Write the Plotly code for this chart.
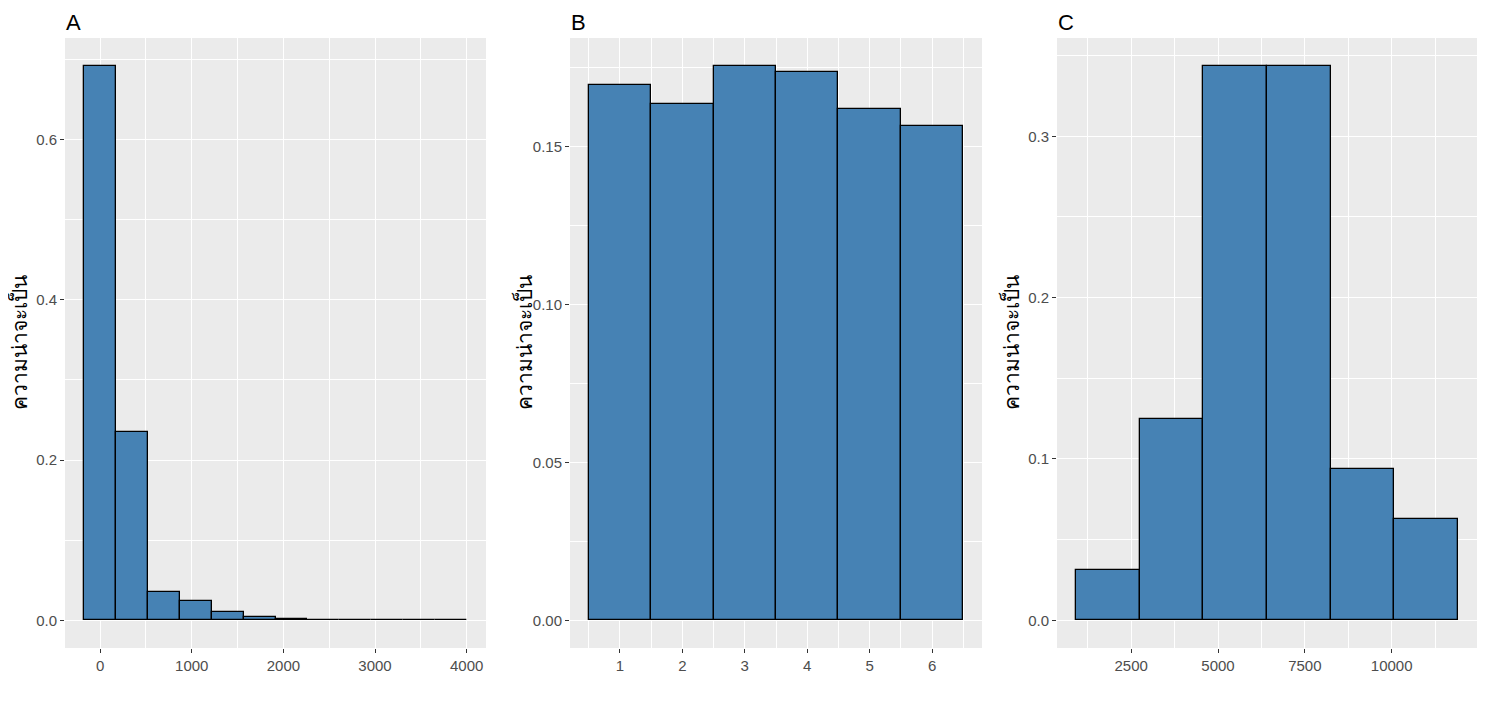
import plotly.graph_objects as go

# panel A: skewed variable, 12 bins
a_centers = [0, 348, 696, 1044, 1392, 1740, 2088, 2436, 2784, 3132, 3480, 3828]
a_prob = [0.692, 0.2345, 0.035, 0.0237, 0.0100, 0.0040, 0.0015, 0.0008, 0.0007, 0.0006, 0.0002, 0.0007]
a_width = 348

# panel B: dice faces
b_centers = [1, 2, 3, 4, 5, 6]
b_prob = [0.1696, 0.1636, 0.1756, 0.1737, 0.1620, 0.1566]
b_width = 1

# panel C: 6 bins
c_centers = [1830, 3662, 5494, 7326, 9158, 10990]
c_prob = [0.03125, 0.125, 0.34375, 0.34375, 0.09375, 0.0625]
c_width = 1832

y_title = "ความน่าจะเป็น"
panel_labels = ["A", "B", "C"]

# page is 1488x704 but the body has an 8px margin, so the figure is a bit smaller
OFF = 8
W, H = 1488 - 2 * OFF, 704 - 2 * OFF
FONT = "Liberation Sans, Arial, sans-serif"
BAR = "#4682B4"
PANEL_BG = "#EBEBEB"

def px_x(p):
    return (p - OFF) / W

def px_y(p):
    return 1 - (p - OFF) / H

fig = go.Figure()

# page-pixel boxes of the three panels (left, right), shared top/bottom
boxes = [(65, 486), (570, 982), (1057, 1477)]
top_px, bot_px = 38, 648
ydom = [px_y(bot_px), px_y(top_px)]

data = [
    (a_centers, a_prob, a_width),
    (b_centers, b_prob, b_width),
    (c_centers, c_prob, c_width),
]

for i, (cx, py, w) in enumerate(data):
    sfx = "" if i == 0 else str(i + 1)
    fig.add_trace(go.Bar(
        x=cx, y=py, width=w,
        marker=dict(color=BAR, line=dict(color="black", width=1.3)),
        xaxis="x" + sfx, yaxis="y" + sfx,
        showlegend=False,
        hovertemplate="%{x}: %{y:.4f}<extra></extra>",
    ))

def yr(vals):
    m = max(vals)
    return [-0.05 * m, 1.05 * m]

def xr(lo, hi):
    d = (hi - lo) * 0.05
    return [lo - d, hi + d]

def minor(vals):
    return dict(tickvals=vals, showgrid=True, gridcolor="white", gridwidth=0.7, ticks="")

axis_common = dict(
    showgrid=True, gridcolor="white", gridwidth=1.4,
    zeroline=False, showline=False,
    ticks="outside", ticklen=4, tickwidth=1.1, tickcolor="#333333",
    tickfont=dict(family=FONT, size=15, color="#4D4D4D"),
)

x_specs = [
    dict(range=xr(-174, 4002), tickvals=[0, 1000, 2000, 3000, 4000], tickformat="d",
         minor=minor([500, 1500, 2500, 3500])),
    dict(range=xr(0.5, 6.5), tickvals=[1, 2, 3, 4, 5, 6], tickformat="d",
         minor=minor([0.5, 1.5, 2.5, 3.5, 4.5, 5.5, 6.5])),
    dict(range=xr(914, 11906), tickvals=[2500, 5000, 7500, 10000], tickformat="d",
         minor=minor([1250, 3750, 6250, 8750, 11250])),
]
y_specs = [
    dict(range=yr(a_prob), tickvals=[0, 0.2, 0.4, 0.6], tickformat=".1f",
         minor=minor([0.1, 0.3, 0.5, 0.7])),
    dict(range=yr(b_prob), tickvals=[0, 0.05, 0.10, 0.15], tickformat=".2f",
         minor=minor([0.025, 0.075, 0.125, 0.175])),
    dict(range=yr(c_prob), tickvals=[0, 0.1, 0.2, 0.3], tickformat=".1f",
         minor=minor([0.05, 0.15, 0.25, 0.35])),
]

layout = dict(
    width=W, height=H,
    margin=dict(l=0, r=0, t=0, b=0),
    paper_bgcolor="white",
    plot_bgcolor=PANEL_BG,
    bargap=0,
    font=dict(family=FONT),
)

annotations = []
for i, (l, r) in enumerate(boxes):
    sfx = "" if i == 0 else str(i + 1)
    layout["xaxis" + sfx] = dict(domain=[px_x(l), px_x(r)], anchor="y" + sfx,
                                 **axis_common, **x_specs[i])
    layout["yaxis" + sfx] = dict(domain=ydom, anchor="x" + sfx,
                                 **axis_common, **y_specs[i])
    # panel letter, kept inside the figure top edge
    annotations.append(dict(text=panel_labels[i], xref="paper", yref="paper",
                            x=px_x(l - 1), y=1, xanchor="left", yanchor="top",
                            showarrow=False, font=dict(family=FONT, size=22, color="black")))
    annotations.append(dict(text=y_title, xref="paper", yref="paper",
                            x=px_x(l - 47), y=sum(ydom) / 2, xanchor="center", yanchor="middle",
                            textangle=-90, showarrow=False,
                            font=dict(family=FONT, size=21, color="black")))

layout["annotations"] = annotations
fig.update_layout(**layout)

fig.write_html("out.html")
